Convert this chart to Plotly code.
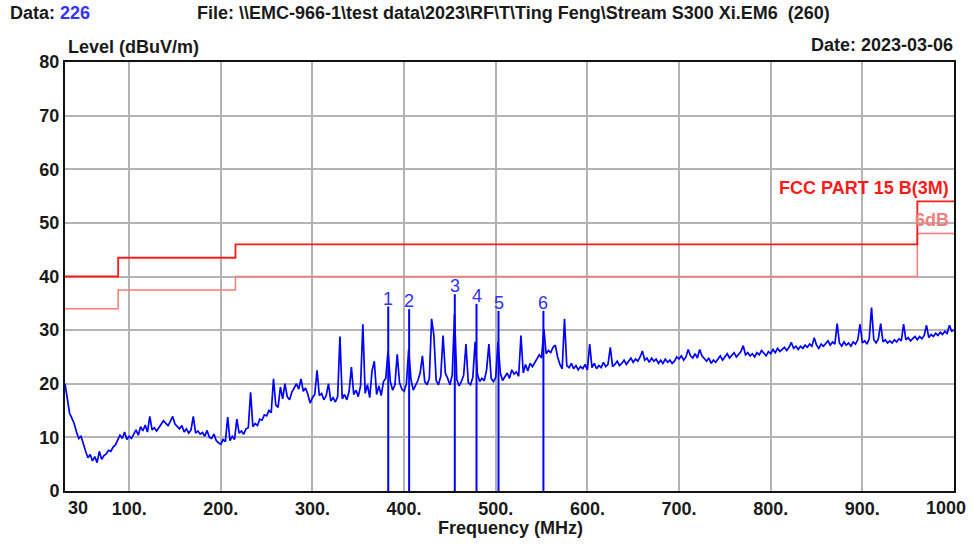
import numpy as np
import plotly.graph_objects as go

# ---- data ----
freq_start, freq_stop, freq_step = 30.0, 1000.0, 2.5
level = [
    # 30 - 77.5
    20.0, 17.2, 14.5, 13.6, 12.6, 11.0, 9.8, 10.2, 8.6, 7.4, 6.2, 6.8, 5.6, 6.4, 5.3, 7.4, 5.9, 6.6, 6.9, 7.6,
    # 80 - 127.5
    7.4, 8.2, 8.6, 9.5, 10.4, 9.8, 11.0, 9.6, 10.2, 9.8, 10.6, 11.4, 10.4, 12.0, 11.2, 12.3, 11.0, 13.9, 11.4, 11.8,
    # 130 - 177.5
    11.2, 11.9, 12.4, 13.1, 12.6, 12.2, 13.0, 13.9, 12.5, 12.0, 11.6, 12.2, 11.0, 11.6, 10.8, 11.4, 13.9, 10.8, 11.2, 10.6,
    # 180 - 227.5
    10.9, 10.2, 11.3, 10.0, 9.8, 10.6, 9.4, 9.0, 8.7, 9.6, 9.2, 13.8, 9.4, 10.2, 9.6, 13.4, 10.8, 11.2, 10.6, 11.6,
    # 230 - 277.5
    11.8, 18.4, 12.0, 12.6, 12.2, 13.4, 13.2, 14.2, 14.0, 15.0, 14.6, 20.9, 16.0, 15.6, 19.4, 17.2, 20.0, 17.6, 17.0, 18.4,
    # 280 - 327.5
    19.2, 20.0, 19.0, 20.9, 18.6, 19.2, 18.0, 16.4, 17.4, 18.0, 22.5, 17.8, 18.2, 17.0, 17.8, 20.0, 16.8, 17.4, 16.6, 17.6,
    # 330 - 377.5
    28.8, 17.2, 18.0, 17.0, 18.6, 23.1, 18.0, 18.8, 17.6, 19.6, 31.1, 18.2, 19.8, 17.4, 22.4, 24.2, 18.0, 19.6, 17.8, 20.4,
    # 380 - 427.5
    21.0, 26.1, 20.4, 18.8, 19.8, 25.5, 20.2, 19.0, 18.6, 20.0, 26.4, 20.8, 18.8, 19.6, 20.6, 22.0, 25.2, 20.4, 19.8, 21.0,
    # 430 - 477.5
    32.1, 29.0, 20.6, 19.8, 21.4, 29.0, 22.0, 21.0, 19.8, 21.6, 33.0, 20.8, 19.6, 20.4, 21.6, 27.4, 20.2, 19.8, 21.2, 27.8,
    # 480 - 527.5
    21.8, 20.4, 21.0, 20.6, 22.6, 27.4, 21.0, 20.4, 21.2, 27.8, 22.0, 20.6, 21.4, 22.0, 21.0, 22.6, 21.8, 22.2, 21.4, 29.0,
    # 530 - 577.5
    22.0, 23.6, 22.4, 23.8, 23.2, 24.0, 24.6, 25.4, 24.8, 30.2, 25.6, 26.2, 25.8, 26.8, 27.2, 25.0, 23.6, 22.8, 32.1, 23.4,
    # 580 - 627.5
    23.0, 23.8, 22.8, 23.4, 22.6, 23.2, 22.8, 23.6, 22.6, 27.4, 23.0, 23.8, 22.8, 23.4, 23.0, 24.0, 23.2, 23.6, 26.8, 23.2,
    # 630 - 677.5
    23.6, 24.2, 23.4, 23.8, 24.4, 23.6, 24.2, 24.8, 24.0, 24.6, 24.2, 25.0, 26.1, 24.4, 24.8, 24.0, 24.8, 24.2, 24.6, 23.8,
    # 680 - 727.5
    24.4, 23.8, 24.6, 24.0, 24.4, 23.8, 24.2, 25.0, 24.6, 25.2, 24.4, 25.0, 26.4, 25.2, 24.8, 25.6, 24.8, 26.4, 25.2, 24.6,
    # 730 - 777.5
    24.2, 24.8, 23.8, 24.4, 24.0, 24.6, 25.2, 24.4, 25.0, 25.6, 24.8, 25.4, 25.8, 25.0, 25.6, 26.0, 27.1, 25.4, 25.8, 25.2,
    # 780 - 827.5
    25.6, 25.0, 25.8, 25.4, 26.2, 25.6, 25.2, 26.0, 25.6, 26.4, 25.8, 26.6, 26.0, 26.4, 26.8, 26.2, 26.8, 27.7, 26.6, 27.0,
    # 830 - 877.5
    26.4, 27.0, 26.6, 27.2, 26.8, 27.4, 27.0, 28.6, 27.2, 26.6, 27.4, 27.0, 27.6, 28.0, 27.2, 27.8, 27.4, 31.2, 27.6, 27.0,
    # 880 - 927.5
    27.8, 27.2, 27.6, 27.0, 27.8, 27.4, 28.2, 31.1, 27.6, 28.0, 27.4, 28.4, 34.2, 28.2, 27.6, 28.4, 31.2, 27.8, 28.2, 27.6,
    # 930 - 977.5
    28.0, 27.6, 28.2, 27.8, 28.4, 28.0, 31.1, 28.2, 28.6, 28.0, 28.4, 28.8, 28.2, 28.8, 28.4, 29.0, 30.9, 28.6, 29.2, 28.8,
    # 980 - 1000
    29.4, 29.0, 29.6, 29.2, 29.8, 29.4, 30.9, 29.8, 30.0,
]
freq = np.arange(freq_start, freq_stop + 0.01, freq_step)

limit_freq = [30, 88, 88, 216, 216, 960, 960, 1000]
limit_level = [40, 40, 43.5, 43.5, 46, 46, 54, 54]
margin_db = 6
margin_level = [v - margin_db for v in limit_level]

marker_freq = [382.7, 405.5, 455.3, 479.0, 503.0, 552.0]
marker_level = [34.4, 33.9, 36.7, 34.9, 33.6, 33.6]
marker_names = ["1", "2", "3", "4", "5", "6"]

x_ticks = [100, 200, 300, 400, 500, 600, 700, 800, 900]
x_ticktext = ["100.", "200.", "300.", "400.", "500.", "600.", "700.", "800.", "900."]
x_edge_labels = ["30", "1000"]
y_ticks = [0, 10, 20, 30, 40, 50, 60, 70, 80]

# ---- figure (body margin removed via post_script) ----
W, H = 973, 545
L, R, T, B = 65, 954, 62, 491          # plot area in page pixels
ml, mr, mt, mb = L, W - R, T, H - B
pw, ph = R - L, B - T
def px(x):
    return (x - L) / pw
def py(y):
    return (B - y) / ph

FONT = "Liberation Sans, Arial, sans-serif"
TXT = "#1a1a1a"
BLUE = "#0000ff"

fig = go.Figure()
fig.add_trace(go.Scatter(x=limit_freq, y=margin_level, mode="lines",
                         line=dict(color="#ff7a7a", width=1.5), hoverinfo="skip"))
fig.add_trace(go.Scatter(x=limit_freq, y=limit_level, mode="lines",
                         line=dict(color="#ff1a1a", width=1.8), hoverinfo="skip"))
fig.add_trace(go.Scatter(x=freq, y=level, mode="lines",
                         line=dict(color=BLUE, width=1.7)))
for f, v in zip(marker_freq, marker_level):
    fig.add_trace(go.Scatter(x=[f, f], y=[0, v], mode="lines",
                             line=dict(color=BLUE, width=2), hoverinfo="skip"))

ann = []
for f, v, n in zip(marker_freq, marker_level, marker_names):
    ann.append(dict(x=f, y=v, xref="x", yref="y", text=n, showarrow=False,
                    yanchor="bottom", xanchor="center", yshift=-4,
                    font=dict(family=FONT, size=18, color="#3030ff")))
bold = dict(family=FONT, size=18, color=TXT)
ann += [
    dict(x=px(8), y=py(13), xref="paper", yref="paper", xanchor="left", yanchor="middle",
         text="<b>Data: <span style='color:#3333ff'>226</span></b>", showarrow=False, font=bold),
    dict(x=px(513), y=py(13), xref="paper", yref="paper", xanchor="center", yanchor="middle",
         text="<b>File: \\\\EMC-966-1\\test data\\2023\\RF\\T\\Ting Feng\\Stream S300 Xi.EM6&nbsp; (260)</b>",
         showarrow=False, font=bold),
    dict(x=px(66), y=py(47), xref="paper", yref="paper", xanchor="left", yanchor="middle",
         text="<b>Level (dBuV/m)</b>", showarrow=False, font=bold),
    dict(x=px(955), y=py(45), xref="paper", yref="paper", xanchor="right", yanchor="middle",
         text="<b>Date: 2023-03-06</b>", showarrow=False, font=bold),
    dict(x=px(511), y=py(528), xref="paper", yref="paper", xanchor="center", yanchor="middle",
         text="<b>Frequency (MHz)</b>", showarrow=False, font=bold),
    dict(x=px(951), y=py(188), xref="paper", yref="paper", xanchor="right", yanchor="middle",
         text="<b>FCC PART 15 B(3M)</b>", showarrow=False,
         font=dict(family=FONT, size=18, color="#ff1a1a")),
    dict(x=px(951), y=py(220), xref="paper", yref="paper", xanchor="right", yanchor="middle",
         text="<b>6dB</b>", showarrow=False,
         font=dict(family=FONT, size=18, color="#f08080")),
    dict(x=px(66), y=py(508), xref="paper", yref="paper", xanchor="left", yanchor="middle",
         text="<b>" + x_edge_labels[0] + "</b>", showarrow=False, font=bold),
    dict(x=px(968), y=py(508), xref="paper", yref="paper", xanchor="right", yanchor="middle",
         text="<b>" + x_edge_labels[1] + "</b>", showarrow=False, font=bold),
]

fig.update_layout(
    width=W, height=H, margin=dict(l=ml, r=mr, t=mt, b=mb, autoexpand=False),
    paper_bgcolor="white", plot_bgcolor="white", showlegend=False,
    annotations=ann,
    xaxis=dict(range=[30, 1000], tickvals=x_ticks, ticktext=x_ticktext,
               showgrid=True, gridcolor="#b4b4b4", gridwidth=1.5, zeroline=False,
               showline=True, linecolor="#111111", linewidth=2, mirror=True,
               ticks="", ticklabelstandoff=0,
               tickfont=dict(family=FONT, size=18, color=TXT, weight="bold")),
    yaxis=dict(range=[0, 80], tickvals=y_ticks,
               showgrid=True, gridcolor="#b4b4b4", gridwidth=1.5, zeroline=False,
               showline=True, linecolor="#111111", linewidth=2, mirror=True,
               ticks="", ticklabelstandoff=0,
               tickfont=dict(family=FONT, size=18, color=TXT, weight="bold")),
)

fig.write_html("out.html", config={"displayModeBar": False},
               post_script="document.body.style.margin='0';document.body.style.overflow='hidden';")
